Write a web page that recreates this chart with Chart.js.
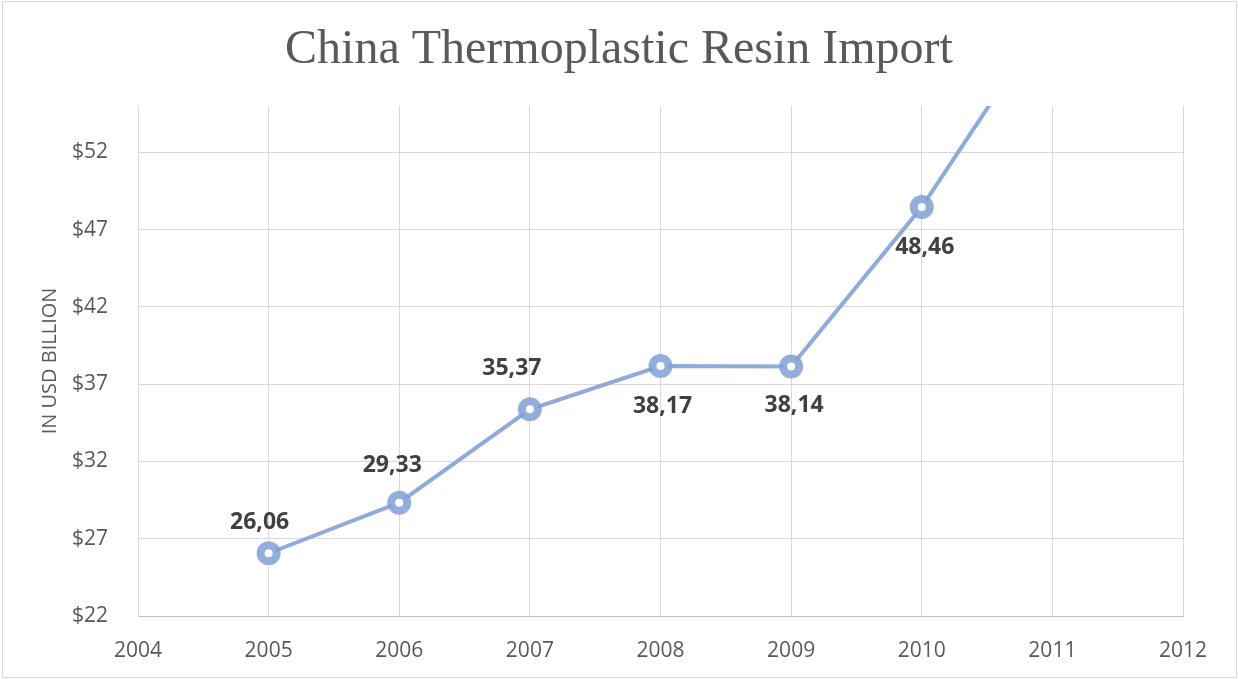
<!DOCTYPE html>
<html>
<head>
<meta charset="utf-8">
<script src="https://cdn.jsdelivr.net/npm/chart.js@4/dist/chart.umd.min.js"></script>
<style>
  body { margin: 0; background: #fff; }
  canvas { display: block; }
</style>
</head>
<body>
<canvas id="myChart" width="1238" height="679"></canvas>
<script>
// data
const years = [2005, 2006, 2007, 2008, 2009, 2010, 2011];
const imports = [26.06, 29.33, 35.37, 38.17, 38.14, 48.46, 61.2]; // 2011 runs off the top
const yTicks = [22, 27, 32, 37, 42, 47, 52];
const xTicks = [2004, 2005, 2006, 2007, 2008, 2009, 2010, 2011, 2012];

const lineColor = '#8FAADC';

// label offsets from the point (px), like the hand-placed labels in the picture
const labelOffsets = [[-9, -31], [-7, -37], [-18, -41], [2, 40], [3, 39], [3, 40]];

const frame = {
  id: 'frame',
  beforeDraw(chart) {
    const c = chart.ctx;
    c.save();
    c.fillStyle = '#fff';
    c.fillRect(0, 0, chart.width, chart.height);
    c.strokeStyle = '#d9d9d9';
    c.lineWidth = 1;
    c.strokeRect(2.5, 1.5, chart.width - 4, chart.height - 3);
    c.restore();
  }
};

const valueLabels = {
  id: 'valueLabels',
  afterDatasetsDraw(chart) {
    const c = chart.ctx;
    const meta = chart.getDatasetMeta(0);
    c.save();
    c.font = 'bold 23px "Open Sans"';
    c.fillStyle = '#404040';
    c.textAlign = 'center';
    c.textBaseline = 'middle';
    meta.data.forEach((pt, i) => {
      if (i >= labelOffsets.length || pt.y < chart.chartArea.top) return;
      const txt = imports[i].toFixed(2).replace('.', ',');
      c.fillText(txt, pt.x + labelOffsets[i][0], pt.y + labelOffsets[i][1]);
    });
    c.restore();
  }
};

let ctx = document.getElementById('myChart').getContext('2d');

let resinChart = new Chart(ctx, {
  type: 'line',
  data: {
    datasets: [{
      label: 'Import',
      data: years.map((y, i) => ({ x: y, y: imports[i] })),
      borderColor: lineColor,
      borderWidth: 4,
      tension: 0,
      pointRadius: 8,
      pointHoverRadius: 8,
      pointBorderWidth: 8,
      pointBackgroundColor: '#fff',
      pointBorderColor: 'rgba(128,160,214,0.85)'
    }]
  },
  options: {
    responsive: false,
    animation: false,
    devicePixelRatio: 1,
    plugins: {
      legend: { display: false },
      tooltip: { enabled: false },
      title: {
        display: true,
        text: 'China Thermoplastic Resin Import',
        color: '#595959',
        font: { family: '"Liberation Serif"', size: 48, weight: 'normal' },
        padding: { top: 22, bottom: 26.4 }
      }
    },
    scales: {
      x: {
        type: 'linear',
        min: 2004,
        max: 2012,
        afterBuildTicks: s => { s.ticks = xTicks.map(v => ({ value: v })); },
        afterFit: s => { s.height = 63; },
        grid: { color: '#d9d9d9', drawTicks: false },
        border: { color: '#bfbfbf' },
        ticks: {
          padding: 22,
          color: '#595959',
          font: { family: '"Open Sans"', size: 21 },
          callback: v => String(v)
        }
      },
      y: {
        min: 22,
        max: 55,
        afterBuildTicks: s => { s.ticks = yTicks.map(v => ({ value: v })); },
        afterFit: s => { s.width = 138; },
        grid: { color: '#d9d9d9', drawTicks: false },
        border: { color: '#d9d9d9' },
        ticks: {
          padding: 30,
          color: '#595959',
          font: { family: '"Open Sans"', size: 21 },
          callback: v => '$' + v
        },
        title: {
          display: true,
          text: 'IN USD BILLION',
          color: '#595959',
          font: { family: '"Open Sans"', size: 20 },
          padding: { top: 38, bottom: 0 }
        }
      },
      // empty right-hand strip so the plot stops at 2012 while the title stays centred
      spacer: {
        type: 'linear',
        position: 'right',
        afterFit: s => { s.width = 55; },
        grid: { display: false },
        border: { display: false },
        ticks: { display: false }
      }
    }
  },
  plugins: [frame, valueLabels]
});
</script>
</body>
</html>
